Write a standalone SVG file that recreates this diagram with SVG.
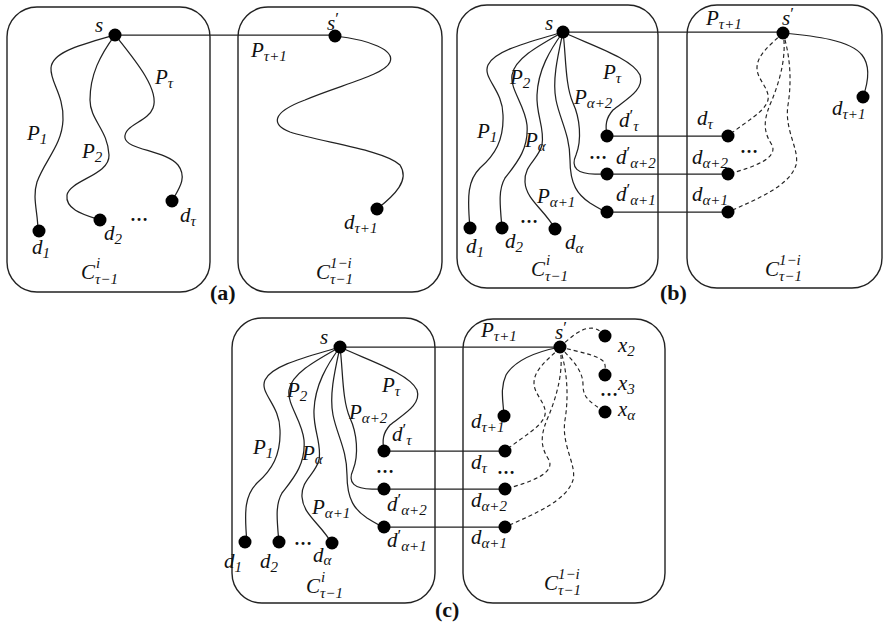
<svg xmlns="http://www.w3.org/2000/svg" width="888" height="623" viewBox="0 0 888 623">
<style>
.box{fill:none;stroke:#222;stroke-width:1.4}
.ln{fill:none;stroke:#222;stroke-width:1.25}
.ds{fill:none;stroke:#222;stroke-width:1.15;stroke-dasharray:4 3}
.dot{fill:#000}
.m{font-family:"Liberation Serif",serif;font-style:italic;font-size:21px;fill:#111}
.b{font-size:15px}
.pr{font-size:17px;font-style:normal}
.el{font-family:"Liberation Serif",serif;font-size:18px;font-weight:bold;fill:#111}
.lab{font-family:"Liberation Serif",serif;font-weight:bold;font-size:22px;fill:#111}
</style>
<rect x="0" y="0" width="888" height="623" fill="#fff"/>

<g id="boxes">
<rect class="box" x="7" y="7" width="203" height="285" rx="30"/>
<rect class="box" x="238" y="7" width="204" height="285" rx="30"/>
<rect class="box" x="457" y="5" width="201" height="283" rx="30"/>
<rect class="box" x="687" y="5" width="195" height="283" rx="30"/>
<rect class="box" x="232" y="318" width="203" height="285" rx="30"/>
<rect class="box" x="463" y="319" width="202" height="284" rx="30"/>
</g>

<g id="connectors">
<!-- (a) -->
<path class="ln" d="M115,35 H335"/>
<path class="ln" d="M115,35 C80,45 52,52 51,68 C50,82 64,95 63,120 C62,145 45,160 37,182 C32,198 38,212 38,231"/>
<path class="ln" d="M115,35 C100,55 90,75 90,100 C90,120 108,130 109,155 C110,175 70,180 67,195 C65,210 85,215 100,220"/>
<path class="ln" d="M115,35 C135,60 160,90 153,108 C148,122 123,125 125,138 C127,150 165,150 178,165 C188,178 178,190 172,201"/>
<path class="ln" d="M335,36 C370,40 395,50 390,62 C385,75 340,85 305,100 C270,113 272,125 290,132 C320,142 385,150 400,165 C410,180 395,195 377,209"/>
<!-- (b) -->
<g id="bleft">
<path class="ln" d="M563,32 H783"/>
<path class="ln" d="M563,32 C530,42 495,50 488,65 C482,78 503,90 503,115 C504,140 495,155 480,168 C468,180 467,195 470,228"/>
<path class="ln" d="M563,32 C540,45 515,58 512,75 C510,90 525,105 527,125 C529,150 515,165 505,178 C498,190 500,205 502,228"/>
<path class="ln" d="M563,32 C550,50 538,70 537,95 C536,115 545,128 542,145 C538,160 524,165 525,182 C526,200 545,210 555,229"/>
<path class="ln" d="M563,32 C558,55 552,80 556,100 C560,120 570,135 570,160 C570,185 578,195 590,203 C598,208 603,211 607,212"/>
<path class="ln" d="M563,32 C566,55 565,85 573,103 C580,118 582,140 576,155 C570,168 578,174 595,174 L607,174"/>
<path class="ln" d="M563,32 C590,45 632,58 640,75 C645,90 625,100 613,110 C606,118 605,125 607,136"/>
<path class="ln" d="M607,136 H728 M607,174 H728 M607,212 H728"/>
<path class="ds" d="M783,33 C770,45 757,55 757,68 C757,80 770,88 768,100 C765,112 745,122 728,136"/>
<path class="ds" d="M783,33 C787,55 780,80 772,100 C764,118 762,130 772,145 C778,158 755,167 728,174"/>
<path class="ds" d="M783,33 C790,55 792,80 788,105 C784,130 800,150 796,165 C790,185 760,198 728,212"/>
</g>
<path class="ln" d="M783,33 C815,36 850,40 862,55 C870,65 869,80 863,97"/>
<!-- (c) -->
<use href="#bleft" transform="translate(-223,315)"/>
<path class="ln" d="M560,347 C535,352 515,360 506,375 C500,388 503,400 504,416"/>
<path class="ds" d="M560,347 C570,338 580,328 592,328 C598,329 602,332 605,336"/>
<path class="ds" d="M560,347 C580,352 600,356 604,362 C606,366 605,370 605,375"/>
<path class="ds" d="M560,347 C572,360 583,370 583,385 C583,398 590,402 605,412"/>
</g>

<g id="pathlabels">
<text class="m" x="27" y="140">P<tspan class="b" dy="4">1</tspan></text>
<text class="m" x="82" y="158">P<tspan class="b" dy="4">2</tspan></text>
<text class="m" x="155" y="84">P<tspan class="b" dy="4">τ</tspan></text>
<text class="m" x="251" y="57">P<tspan class="b" dy="4">τ+1</tspan></text>
<text class="m" x="81" y="279">C<tspan class="b" x="96" y="268">i</tspan><tspan class="b" x="95" y="284">τ−1</tspan></text>
<text class="m" x="316" y="279">C<tspan class="b" x="330" y="268">1−i</tspan><tspan class="b" x="330" y="284">τ−1</tspan></text>
<text class="el" x="130" y="221">…</text>
<text class="lab" x="210" y="300">(a)</text>

<text class="m" x="477" y="138">P<tspan class="b" dy="4">1</tspan></text>
<text class="m" x="510" y="84">P<tspan class="b" dy="4">2</tspan></text>
<text class="m" x="525" y="147">P<tspan class="b" dy="4">α</tspan></text>
<text class="m" x="603" y="79">P<tspan class="b" dy="4">τ</tspan></text>
<text class="m" x="574" y="104">P<tspan class="b" dy="4">α+2</tspan></text>
<text class="m" x="537" y="203">P<tspan class="b" dy="4">α+1</tspan></text>
<text class="m" x="706" y="25">P<tspan class="b" dy="4">τ+1</tspan></text>
<text class="m" x="531" y="276">C<tspan class="b" x="546" y="265">i</tspan><tspan class="b" x="545" y="281">τ−1</tspan></text>
<text class="m" x="765" y="276">C<tspan class="b" x="779" y="265">1−i</tspan><tspan class="b" x="779" y="281">τ−1</tspan></text>
<text class="el" x="520" y="223">…</text>
<text class="el" x="589" y="159">…</text>
<text class="el" x="740" y="153">…</text>
<text class="lab" x="660" y="300">(b)</text>

<text class="m" x="253" y="454">P<tspan class="b" dy="4">1</tspan></text>
<text class="m" x="287" y="397">P<tspan class="b" dy="4">2</tspan></text>
<text class="m" x="302" y="460">P<tspan class="b" dy="4">α</tspan></text>
<text class="m" x="382" y="392">P<tspan class="b" dy="4">τ</tspan></text>
<text class="m" x="349" y="419">P<tspan class="b" dy="4">α+2</tspan></text>
<text class="m" x="312" y="514">P<tspan class="b" dy="4">α+1</tspan></text>
<text class="m" x="481" y="337">P<tspan class="b" dy="4">τ+1</tspan></text>
<text class="m" x="306" y="593">C<tspan class="b" x="321" y="582">i</tspan><tspan class="b" x="320" y="598">τ−1</tspan></text>
<text class="m" x="544" y="590">C<tspan class="b" x="558" y="579">1−i</tspan><tspan class="b" x="558" y="595">τ−1</tspan></text>
<text class="el" x="294" y="545">…</text>
<text class="el" x="376" y="473">…</text>
<text class="el" x="497" y="474">…</text>
<text class="el" x="600" y="396">…</text>
<text class="lab" x="435" y="617">(c)</text>
</g>

<!-- (a) nodes -->
<g id="a_s"><circle class="dot" cx="115" cy="35" r="6.5"/><text class="m" x="95" y="32">s</text></g>
<g id="a_sp"><circle class="dot" cx="335" cy="36" r="6.5"/><text class="m" x="327" y="30">s<tspan class="pr" dy="-6">′</tspan></text></g>
<g id="a_d1"><circle class="dot" cx="39" cy="231" r="6.5"/><text class="m" x="32" y="254">d<tspan class="b" dy="4">1</tspan></text></g>
<g id="a_d2"><circle class="dot" cx="100" cy="220" r="6.5"/><text class="m" x="104" y="240">d<tspan class="b" dy="4">2</tspan></text></g>
<g id="a_dt"><circle class="dot" cx="172" cy="201" r="6.5"/><text class="m" x="180" y="222">d<tspan class="b" dy="4">τ</tspan></text></g>
<g id="a_dt1"><circle class="dot" cx="377" cy="209" r="6.5"/><text class="m" x="344" y="229">d<tspan class="b" dy="4">τ+1</tspan></text></g>

<!-- (b) nodes -->
<g id="b_s"><circle class="dot" cx="563" cy="32" r="6.5"/><text class="m" x="545" y="30">s</text></g>
<g id="b_sp"><circle class="dot" cx="783" cy="33" r="6.5"/><text class="m" x="782" y="25">s<tspan class="pr" dy="-6">′</tspan></text></g>
<g id="b_d1"><circle class="dot" cx="470" cy="228" r="6.5"/><text class="m" x="466" y="253">d<tspan class="b" dy="4">1</tspan></text></g>
<g id="b_d2"><circle class="dot" cx="502" cy="228" r="6.5"/><text class="m" x="505" y="248">d<tspan class="b" dy="4">2</tspan></text></g>
<g id="b_da"><circle class="dot" cx="555" cy="229" r="6.5"/><text class="m" x="565" y="249">d<tspan class="b" dy="4">α</tspan></text></g>
<g id="b_dpt"><circle class="dot" cx="607" cy="136" r="6.5"/><text class="m" x="619" y="127">d<tspan class="pr" dy="-6">′</tspan><tspan class="b" dy="10">τ</tspan></text></g>
<g id="b_dpa2"><circle class="dot" cx="607" cy="174" r="6.5"/><text class="m" x="616" y="164">d<tspan class="pr" dy="-6">′</tspan><tspan class="b" dy="10">α+2</tspan></text></g>
<g id="b_dpa1"><circle class="dot" cx="607" cy="212" r="6.5"/><text class="m" x="616" y="201">d<tspan class="pr" dy="-6">′</tspan><tspan class="b" dy="10">α+1</tspan></text></g>
<g id="b_dt"><circle class="dot" cx="728" cy="136" r="6.5"/><text class="m" x="697" y="125">d<tspan class="b" dy="4">τ</tspan></text></g>
<g id="b_da2"><circle class="dot" cx="728" cy="174" r="6.5"/><text class="m" x="692" y="164">d<tspan class="b" dy="4">α+2</tspan></text></g>
<g id="b_da1"><circle class="dot" cx="728" cy="212" r="6.5"/><text class="m" x="692" y="201">d<tspan class="b" dy="4">α+1</tspan></text></g>
<g id="b_dt1"><circle class="dot" cx="863" cy="97" r="6.5"/><text class="m" x="832" y="115">d<tspan class="b" dy="4">τ+1</tspan></text></g>

<!-- (c) nodes -->
<g id="c_s"><circle class="dot" cx="340" cy="347" r="6.5"/><text class="m" x="320" y="344">s</text></g>
<g id="c_sp"><circle class="dot" cx="560" cy="347" r="6.5"/><text class="m" x="555" y="339">s<tspan class="pr" dy="-6">′</tspan></text></g>
<g id="c_d1"><circle class="dot" cx="245" cy="542" r="6.5"/><text class="m" x="224" y="568">d<tspan class="b" dy="4">1</tspan></text></g>
<g id="c_d2"><circle class="dot" cx="279" cy="542" r="6.5"/><text class="m" x="260" y="568">d<tspan class="b" dy="4">2</tspan></text></g>
<g id="c_da"><circle class="dot" cx="332" cy="543" r="6.5"/><text class="m" x="313" y="562">d<tspan class="b" dy="3">α</tspan></text></g>
<g id="c_dpt"><circle class="dot" cx="384" cy="451" r="6.5"/><text class="m" x="392" y="441">d<tspan class="pr" dy="-6">′</tspan><tspan class="b" dy="10">τ</tspan></text></g>
<g id="c_dpa2"><circle class="dot" cx="384" cy="489" r="6.5"/><text class="m" x="387" y="511">d<tspan class="pr" dy="-6">′</tspan><tspan class="b" dy="10">α+2</tspan></text></g>
<g id="c_dpa1"><circle class="dot" cx="384" cy="527" r="6.5"/><text class="m" x="387" y="547">d<tspan class="pr" dy="-6">′</tspan><tspan class="b" dy="10">α+1</tspan></text></g>
<g id="c_dt1"><circle class="dot" cx="504" cy="416" r="6.5"/><text class="m" x="471" y="428">d<tspan class="b" dy="4">τ+1</tspan></text></g>
<g id="c_dt"><circle class="dot" cx="505" cy="451" r="6.5"/><text class="m" x="471" y="469">d<tspan class="b" dy="4">τ</tspan></text></g>
<g id="c_da2"><circle class="dot" cx="505" cy="489" r="6.5"/><text class="m" x="471" y="507">d<tspan class="b" dy="4">α+2</tspan></text></g>
<g id="c_da1"><circle class="dot" cx="505" cy="527" r="6.5"/><text class="m" x="471" y="544">d<tspan class="b" dy="4">α+1</tspan></text></g>
<g id="c_x2"><circle class="dot" cx="605" cy="336" r="6.5"/><text class="m" x="618" y="352">x<tspan class="b" dy="4">2</tspan></text></g>
<g id="c_x3"><circle class="dot" cx="605" cy="375" r="6.5"/><text class="m" x="618" y="390">x<tspan class="b" dy="4">3</tspan></text></g>
<g id="c_xa"><circle class="dot" cx="605" cy="412" r="6.5"/><text class="m" x="618" y="416">x<tspan class="b" dy="4">α</tspan></text></g>
</svg>
